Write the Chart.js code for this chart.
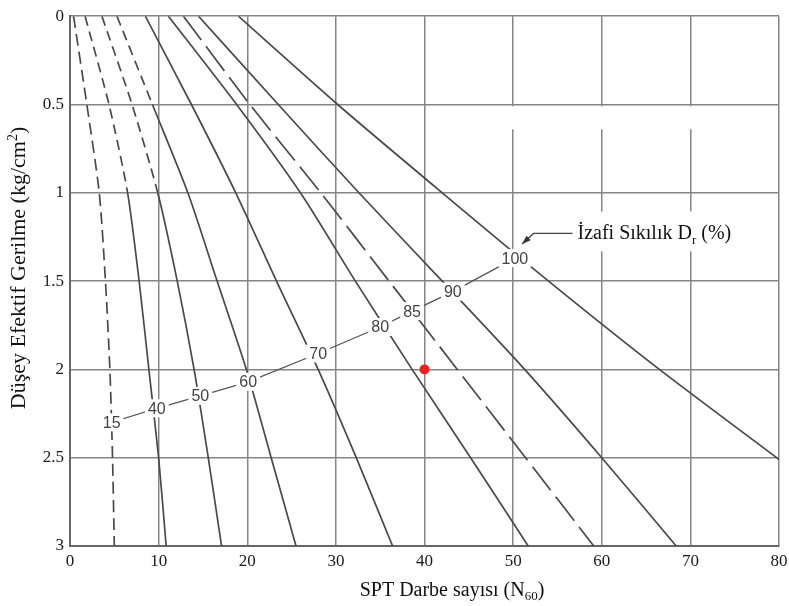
<!DOCTYPE html>
<html>
<head>
<meta charset="utf-8">
<script src="https://cdn.jsdelivr.net/npm/chart.js@4.4.0/dist/chart.umd.min.js"></script>
<style>
  html, body { margin: 0; padding: 0; background: #fff; }
</style>
</head>
<body>
<canvas id="graph1" width="789" height="606"></canvas>
<script>
// effective vertical stress (kg/cm2) where each curve was read
const sigma = [0, 0.5, 1, 1.5, 2, 2.5, 3];
// SPT N60
const dr15 = [0.4, 1.9, 3.3, 4.0, 4.5, 4.8, 5.0];
const dr40 = [1.7, 4.4, 6.5, 7.8, 8.9, 10.0, 10.85];
const dr50 = [3.6, 7.0, 9.9, 12.1, 14.0, 15.6, 17.1];
const dr60 = [5.3, 9.3, 13.3, 16.6, 19.9, 22.7, 25.5];
const dr70 = [8.5, 13.7, 18.7, 23.3, 28.0, 32.3, 36.4];
const dr80 = [11.1, 18.8, 26.0, 32.2, 38.6, 45.2, 51.7];
const dr85 = [12.8, 20.3, 28.3, 36.0, 43.7, 51.4, 59.1];
const dr90 = [14.5, 23.5, 32.6, 42.0, 51.3, 60.0, 68.4];
const sigma100 = [0, 0.5, 1, 1.5, 2, 2.51];
const dr100 = [19.0, 30.2, 42.0, 54.0, 66.5, 80.0];

// curve labels (Dr %) and where they sit
const labelText = ['15', '40', '50', '60', '70', '80', '85', '90', '100'];
const labelN = [4.7, 9.8, 14.7, 20.1, 28.0, 35.0, 38.6, 43.2, 50.2];
const labelS = [2.30, 2.22, 2.15, 2.07, 1.91, 1.76, 1.67, 1.56, 1.37];

// leader from the "100" label to the note
const leaderN = [51.0, 52.3, 56.7];
const leaderS = [1.29, 1.23, 1.23];

// marked point
const pointN = [40];
const pointS = [2];

const xTicks = [0, 10, 20, 30, 40, 50, 60, 70, 80];
const yTicks = [0, 0.5, 1, 1.5, 2, 2.5, 3];

const LINE = '#4a4a4a';
const SERIF = "'Liberation Serif', 'Times New Roman', serif";

function pts(xs, ys) {
    return xs.map((v, i) => ({ x: v, y: ys[i] }));
}

function drLine(values, ys, dash, dashUntil) {
    const ds = {
        data: pts(values, ys),
        showLine: true,
        borderColor: LINE,
        borderWidth: 1.7,
        pointRadius: 0,
        tension: 0.25,
        borderDash: dash || []
    };
    if (dashUntil !== undefined) {
        ds.segment = {
            borderDash: ctx => ctx.p1.parsed.y <= dashUntil ? [10, 6] : []
        };
    }
    return ds;
}

function drawRich(ctx, parts, x, y, size, align) {
    const fontFor = k => (k ? Math.round(size * 0.65) : size) + 'px ' + SERIF;
    let w = 0;
    parts.forEach(p => { ctx.font = fontFor(p[1]); w += ctx.measureText(p[0]).width; });
    let cx = align === 'left' ? x : x - w / 2;
    parts.forEach(p => {
        ctx.font = fontFor(p[1]);
        const dy = p[1] === 1 ? size * 0.22 : (p[1] === 2 ? -size * 0.38 : 0);
        ctx.fillText(p[0], cx, y + dy);
        cx += ctx.measureText(p[0]).width;
    });
    return w;
}

const annotPlugin = {
    id: 'annot',
    beforeDatasetsDraw(chart) {
        // faded strip in the scanned grid
        const { ctx, scales: { x, y } } = chart;
        ctx.save();
        ctx.fillStyle = '#fff';
        const x0 = x.getPixelForValue(45.5), x1 = x.getPixelForValue(79.6);
        const y0 = y.getPixelForValue(0.51), y1 = y.getPixelForValue(0.64);
        ctx.fillRect(x0, y0, x1 - x0, y1 - y0);
        ctx.restore();
    },
    afterDatasetsDraw(chart) {
        const { ctx, scales: { x, y } } = chart;
        ctx.save();

        // Dr labels
        ctx.font = "16px 'Liberation Sans', Arial, sans-serif";
        ctx.textAlign = 'center';
        ctx.textBaseline = 'middle';
        labelText.forEach((t, i) => {
            const px = x.getPixelForValue(labelN[i]);
            const py = y.getPixelForValue(labelS[i]);
            const w = ctx.measureText(t).width;
            ctx.fillStyle = '#fff';
            ctx.fillRect(px - w / 2 - 3, py - 9, w + 6, 18);
            ctx.fillStyle = '#444';
            ctx.fillText(t, px, py + 1);
        });

        // arrow head on the leader
        const tx = x.getPixelForValue(leaderN[0]), ty = y.getPixelForValue(leaderS[0]);
        const bx = x.getPixelForValue(leaderN[1]), by = y.getPixelForValue(leaderS[1]);
        const a = Math.atan2(ty - by, tx - bx);
        ctx.fillStyle = '#333';
        ctx.beginPath();
        ctx.moveTo(tx, ty);
        ctx.lineTo(tx - 9 * Math.cos(a) + 3 * Math.sin(a), ty - 9 * Math.sin(a) - 3 * Math.cos(a));
        ctx.lineTo(tx - 9 * Math.cos(a) - 3 * Math.sin(a), ty - 9 * Math.sin(a) + 3 * Math.cos(a));
        ctx.closePath();
        ctx.fill();

        // note text
        const nx = x.getPixelForValue(leaderN[2]) + 5;
        const ny = y.getPixelForValue(leaderS[2]);
        ctx.fillStyle = '#fff';
        ctx.fillRect(nx - 2, ny - 22, 162, 40);
        ctx.fillStyle = '#111';
        ctx.textAlign = 'left';
        ctx.textBaseline = 'alphabetic';
        drawRich(ctx, [['İzafi Sıkılık D', 0], ['r', 1], [' (%)', 0]], nx, ny + 6, 20, 'left');
        ctx.restore();
    },
    afterDraw(chart) {
        const { ctx } = chart;
        ctx.save();
        ctx.fillStyle = '#111';
        ctx.textBaseline = 'alphabetic';
        drawRich(ctx, [['SPT Darbe sayısı (N', 0], ['60', 1], [')', 0]], 452, 596, 20);
        ctx.translate(25, 268);
        ctx.rotate(-Math.PI / 2);
        drawRich(ctx, [['Düşey Efektif Gerilme (kg/cm', 0], ['2', 2], [')', 0]], 0, 0, 22);
        ctx.restore();
    }
};

new Chart(document.getElementById('graph1'), {
    type: 'scatter',
    data: {
        datasets: [
            drLine(dr15, sigma, [12, 6]),
            drLine(dr40, sigma, null, 1),
            drLine(dr50, sigma, null, 1),
            drLine(dr60, sigma, null, 0.5),
            drLine(dr70, sigma),
            drLine(dr80, sigma),
            drLine(dr85, sigma, [30, 8]),
            drLine(dr90, sigma),
            drLine(dr100, sigma100),
            {
                data: pts(labelN, labelS),
                showLine: true,
                borderColor: '#555',
                borderWidth: 1.3,
                pointRadius: 0,
                tension: 0
            },
            {
                data: pts(leaderN, leaderS),
                showLine: true,
                borderColor: '#444',
                borderWidth: 1.3,
                pointRadius: 0,
                tension: 0
            },
            {
                data: pts(pointN, pointS),
                pointRadius: 5,
                pointBackgroundColor: '#e8231f',
                pointBorderWidth: 0
            }
        ]
    },
    options: {
        responsive: false,
        animation: false,
        layout: { padding: { top: 12, right: 0 } },
        plugins: {
            legend: { display: false },
            tooltip: { enabled: false }
        },
        scales: {
            x: {
                type: 'linear',
                min: 0,
                max: 80,
                afterBuildTicks: s => { s.ticks = xTicks.map(v => ({ value: v })); },
                afterFit: s => { s.height = 60; s.paddingRight = 10; },
                ticks: { font: { family: SERIF, size: 17 }, color: '#1a1a1a', padding: 5 },
                grid: { color: '#858585', lineWidth: 1.5, drawTicks: false },
                border: { color: '#666', width: 2 }
            },
            y: {
                type: 'linear',
                min: 0,
                max: 3,
                reverse: true,
                afterBuildTicks: s => { s.ticks = yTicks.map(v => ({ value: v })); },
                afterFit: s => { s.width = 70; },
                ticks: {
                    font: { family: SERIF, size: 17 },
                    color: '#1a1a1a',
                    padding: 6,
                    callback: v => String(v)
                },
                grid: { color: '#858585', lineWidth: 1.5, drawTicks: false },
                border: { color: '#666', width: 2 }
            }
        }
    },
    plugins: [annotPlugin]
});
</script>
</body>
</html>
